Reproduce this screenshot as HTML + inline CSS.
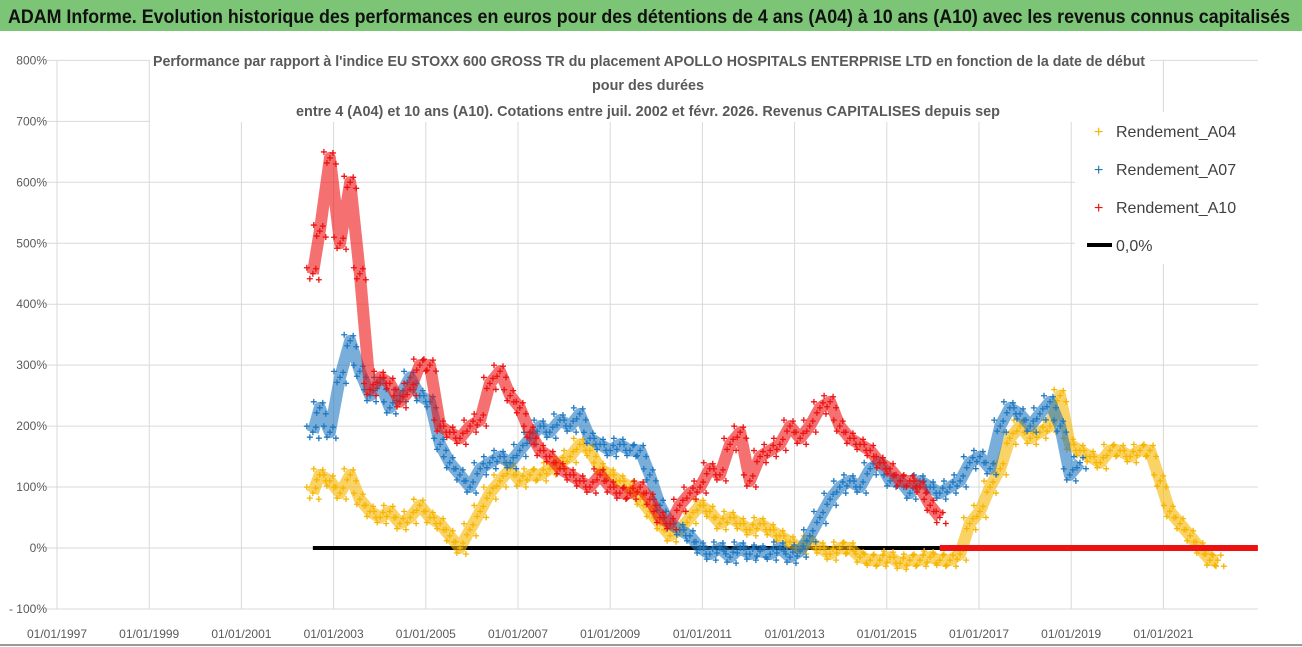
<!DOCTYPE html>
<html><head><meta charset="utf-8"><style>
html,body{margin:0;padding:0;background:#fff;width:1302px;height:647px;overflow:hidden}
svg{display:block;font-family:"Liberation Sans",sans-serif}
</style></head><body>
<svg id="chart" width="1302" height="647" xmlns="http://www.w3.org/2000/svg">
<rect x="0" y="0" width="1302" height="647" fill="#fff"/>
<rect x="0" y="0" width="1302" height="31" fill="#7cc576"/>
<text x="8" y="23" font-size="19" font-weight="bold" fill="#111" textLength="1282" lengthAdjust="spacingAndGlyphs">ADAM Informe. Evolution historique des performances en euros pour des détentions de 4 ans (A04) à 10 ans (A10) avec les revenus connus capitalisés</text>
<line x1="0" y1="645" x2="1302" y2="645" stroke="#999" stroke-width="2"/>
<g id="grid"></g>
<g id="axes"></g>
<g id="series"></g>
<rect x="150" y="44" width="1000" height="78" fill="#fff"/>
<g font-size="15" font-weight="bold" fill="#595959">
<text x="153" y="66" textLength="992" lengthAdjust="spacingAndGlyphs">Performance par rapport à l'indice EU STOXX 600 GROSS TR  du placement APOLLO HOSPITALS ENTERPRISE LTD en fonction de la date de début</text>
<text x="592" y="90" textLength="112" lengthAdjust="spacingAndGlyphs">pour des durées</text>
<text x="296" y="116" textLength="704" lengthAdjust="spacingAndGlyphs">entre 4 (A04) et 10 ans (A10). Cotations entre juil. 2002 et févr. 2026. Revenus CAPITALISES depuis sep</text>
</g>
<g id="legend">
<rect x="1075" y="112" width="185" height="152" fill="#fff"/>
<g><text x="1094" y="137" font-size="16" fill="#f5b400">+</text><text x="1116" y="137" font-size="16" fill="#404040">Rendement_A04</text></g>
<g><text x="1094" y="175" font-size="16" fill="#1f77b4">+</text><text x="1116" y="175" font-size="16" fill="#404040">Rendement_A07</text></g>
<g><text x="1094" y="213" font-size="16" fill="#ee1111">+</text><text x="1116" y="213" font-size="16" fill="#404040">Rendement_A10</text></g>
<g><line x1="1087" y1="245" x2="1112" y2="245" stroke="#000" stroke-width="4"/><text x="1116" y="251" font-size="16" fill="#404040">0,0%</text></g>
</g>
</svg>
<script>
const dates=[2002.55,2002.70,2002.92,2003.14,2003.36,2003.57,2003.79,2004.01,2004.22,2004.44,2004.66,2004.87,2005.09,2005.31,2005.52,2005.74,2005.96,2006.18,2006.39,2006.61,2006.83,2007.04,2007.26,2007.48,2007.69,2007.91,2008.13,2008.34,2008.56,2008.78,2009.00,2009.21,2009.43,2009.65,2009.86,2010.08,2010.30,2010.51,2010.73,2010.95,2011.16,2011.38,2011.60,2011.82,2012.03,2012.25,2012.47,2012.68,2012.90,2013.12,2013.33,2013.55,2013.77,2013.98,2014.20,2014.42,2014.64,2014.85,2015.07,2015.29,2015.50,2015.72,2015.94,2016.15,2016.37,2016.59,2016.80,2017.02,2017.24,2017.46,2017.67,2017.89,2018.11,2018.32,2018.54,2018.76,2018.97,2019.19,2019.41,2019.63,2019.84,2020.06,2020.28,2020.49,2020.71,2020.93,2021.14,2021.36,2021.58,2021.79,2022.01,2022.18];
const a10=[450,520,640,500,600,450,260,280,270,240,260,300,300,200,190,180,200,210,270,290,250,230,190,160,150,130,120,110,100,120,100,90,90,100,80,50,40,70,90,100,130,120,170,190,110,150,160,170,200,180,200,230,240,200,180,170,160,140,130,110,110,100,70,50];
const a07=[190,230,190,280,340,290,250,270,230,250,280,250,240,170,140,120,100,130,140,150,140,160,180,200,190,210,200,220,180,170,160,170,160,160,120,70,40,30,20,0,-10,0,-15,0,-10,-5,-10,0,-15,-5,20,50,80,100,110,100,130,140,110,110,90,110,100,90,100,110,140,150,130,200,230,220,200,220,240,200,120,140];
const a04=[90,120,110,90,120,80,60,50,60,40,50,70,50,40,20,0,30,60,90,110,130,110,120,120,130,140,150,170,160,130,120,110,100,80,60,40,20,30,50,70,60,40,50,40,30,40,30,20,10,0,10,0,-10,0,0,-15,-20,-20,-15,-25,-20,-20,-15,-20,-20,-10,40,60,100,130,180,200,180,190,200,250,170,160,150,140,160,160,150,160,160,110,60,40,20,0,-20,-20];
const zeroLineDates=[2002.55,2016.15];
const zeroRedDates=[2016.15,2023.05];
const yTicks=[800,700,600,500,400,300,200,100,0,-100];
const yTickLabels=["800%","700%","600%","500%","400%","300%","200%","100%","0%","- 100%"];
const xTicks=[1997,1999,2001,2003,2005,2007,2009,2011,2013,2015,2017,2019,2021];
const xTickLabels=["01/01/1997","01/01/1999","01/01/2001","01/01/2003","01/01/2005","01/01/2007","01/01/2009","01/01/2011","01/01/2013","01/01/2015","01/01/2017","01/01/2019","01/01/2021"];

const NS="http://www.w3.org/2000/svg";
const X0=57,PXY=46.1,Y0=548,PXV=0.6095;
const plotL=46,plotR=1258,plotT=61,plotB=609;
function xs(d){return X0+(d-1997)*PXY;}
function ys(v){return Y0-v*PXV;}
function mk(tag,attrs,parent){const e=document.createElementNS(NS,tag);for(const k in attrs)e.setAttribute(k,attrs[k]);parent.appendChild(e);return e;}
const grid=document.getElementById('grid'),axes=document.getElementById('axes'),ser=document.getElementById('series');
yTicks.forEach((t,i)=>{
  const l=mk('line',{x1:plotL,x2:plotR,y1:ys(t),y2:ys(t),stroke:'#d9d9d9','stroke-width':1},grid);
  
  
  const tx=mk('text',{x:47,y:ys(t)+4,'font-size':12,fill:'#595959','text-anchor':'end'},axes);
  tx.textContent=yTickLabels[i];
  
  
});
xTicks.forEach((t,i)=>{
  const l=mk('line',{x1:xs(t),x2:xs(t),y1:plotT,y2:plotB,stroke:'#d9d9d9','stroke-width':1},grid);
  
  
  const tx=mk('text',{x:xs(t),y:638,'font-size':12,fill:'#595959','text-anchor':'middle'},axes);
  tx.textContent=xTickLabels[i];
  
  
});
function drawSeries(vals,color,name){
  const g=mk('g',{},ser);
  
  
  const pts=[];
  vals.forEach((v,i)=>{if(v!==null&&v!==undefined)pts.push([xs(dates[i]),ys(v)]);});
  const pl=mk('polyline',{points:pts.map(p=>p.join(',')).join(' '),fill:'none',stroke:color,'stroke-width':12,'stroke-opacity':0.6,'stroke-linejoin':'round'},g);
  
  
  pts.forEach(p=>{
    [[-6,-6],[0,0],[6,6],[-3,5],[3,-5]].forEach(o=>{
      const m=mk('path',{d:`M${p[0]+o[0]-3},${p[1]+o[1]}h6M${p[0]+o[0]},${p[1]+o[1]-3}v6`,stroke:color,'stroke-width':1.3},g);
      
      
    });
  });
}
const zl=mk('line',{x1:xs(zeroLineDates[0]),x2:xs(zeroLineDates[1]),y1:ys(0),y2:ys(0),stroke:'#000','stroke-width':4},ser);


drawSeries(a04,'#f7b500','series-a04');
drawSeries(a07,'#1f78c1','series-a07');
drawSeries(a10,'#ee1111','series-a10');
const zr=mk('line',{x1:xs(zeroRedDates[0]),x2:xs(zeroRedDates[1]),y1:ys(0),y2:ys(0),stroke:'#ee1111','stroke-width':6},ser);


</script>
</body></html>
